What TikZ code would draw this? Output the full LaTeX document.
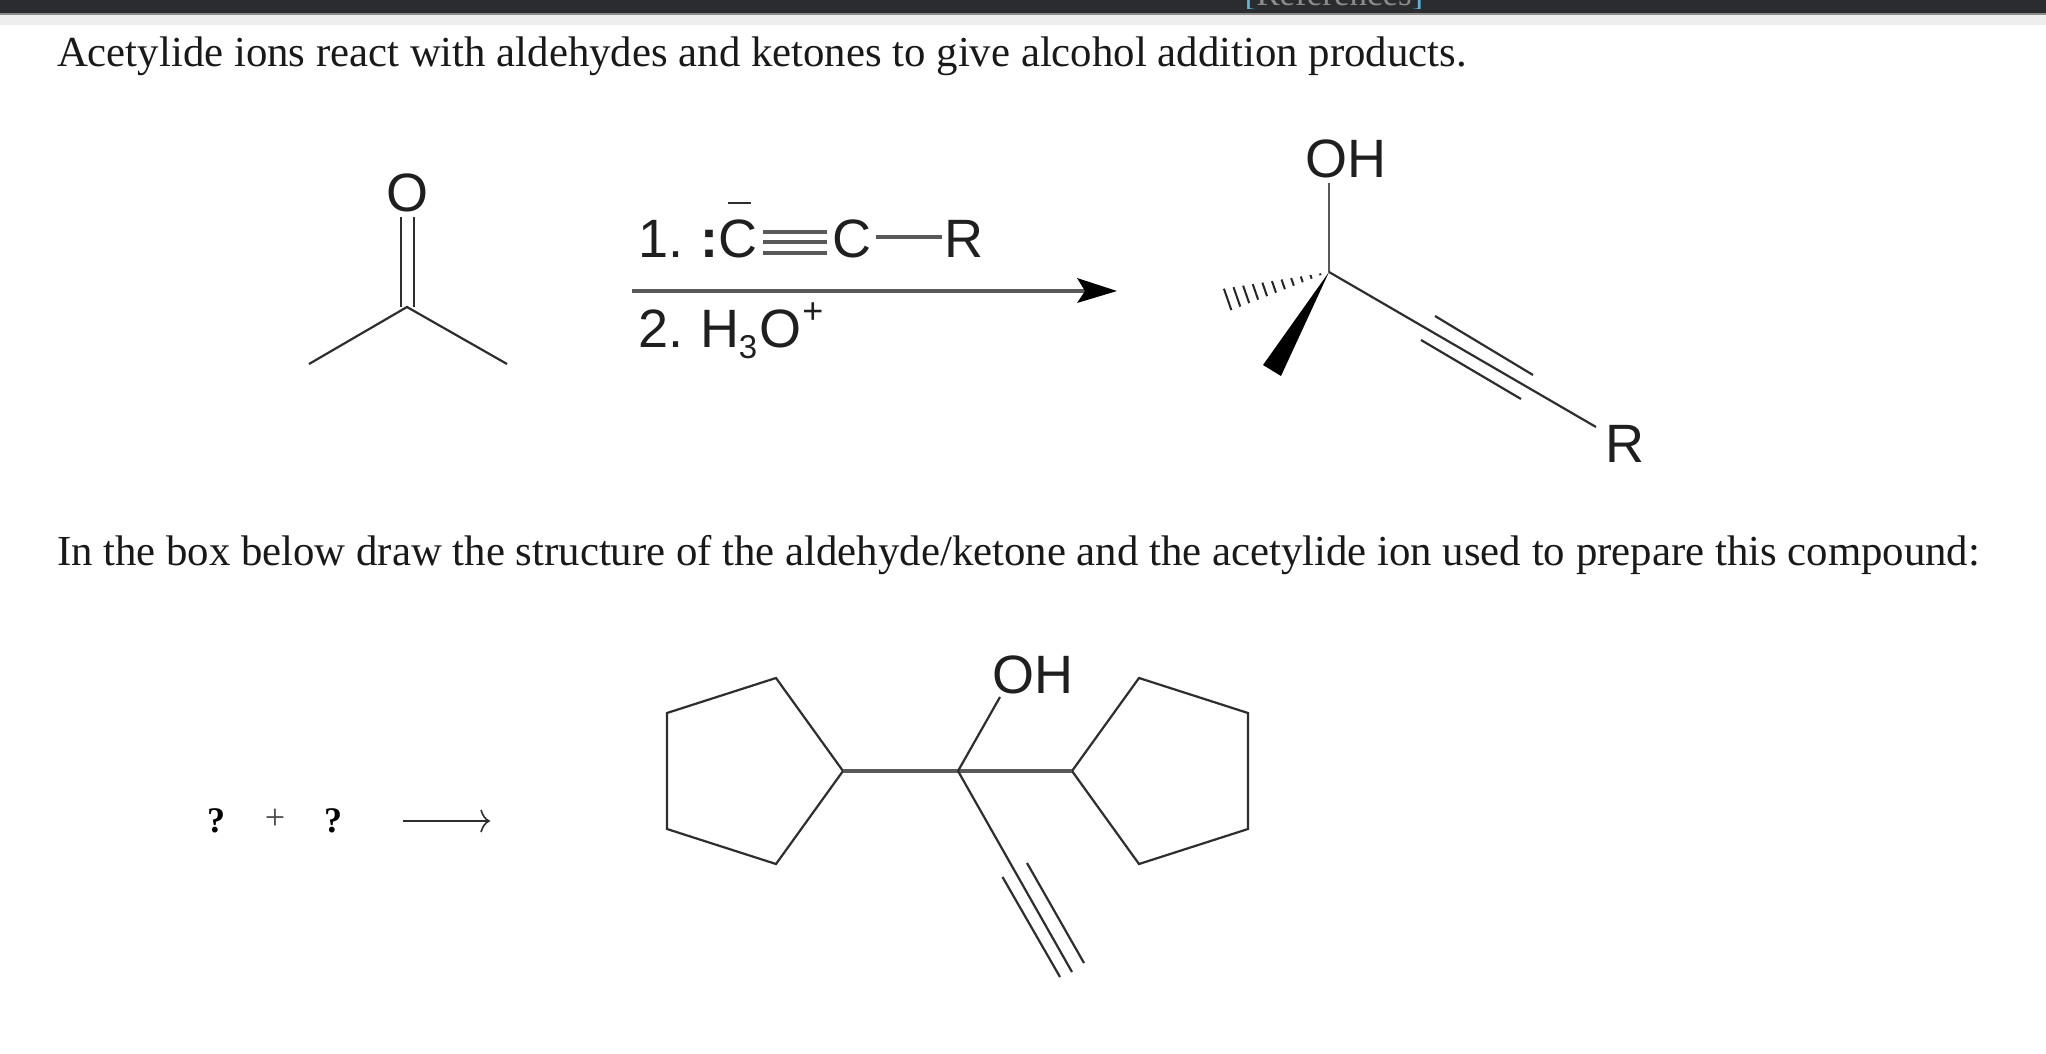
\documentclass[tikz,border=0pt]{standalone}
\usepackage{fontspec}
\usetikzlibrary{calc}
\setmainfont{Liberation Serif}
\newfontfamily\chemfont{Liberation Sans}
\definecolor{bond}{HTML}{2E2E2E}
\definecolor{barcol}{HTML}{2B2C2F}
\definecolor{bandcol}{HTML}{EEEEEE}
\definecolor{refcol}{HTML}{5BB8DC}
\tikzset{
  x=0.5pt,y=-0.5pt,
  atom/.style={inner sep=0pt,outer sep=0pt,anchor=base,font=\chemfont\fontsize{27}{27}\selectfont,text=black!88},
  para/.style={inner sep=0pt,outer sep=0pt,anchor=base west,font=\fontsize{21.4}{23}\selectfont,text=black!90},
  bondline/.style={draw=bond,line width=1.1pt},
  thickbond/.style={draw=black!65,line width=1.8pt},
  qmark/.style={inner sep=0pt,outer sep=0pt,anchor=base,font=\bfseries\fontsize{18}{20}\selectfont},
}
\begin{document}
\begin{tikzpicture}
\useasboundingbox (0,0) rectangle (2046,1054);
\fill[white] (0,0) rectangle (2046,1054);
% window chrome
\fill[bandcol] (0,15) rectangle (2046,25);
\fill[barcol] (0,0) rectangle (2046,13);
\fill[black!45] (0,13) rectangle (2046,15);
\begin{scope}
\clip (0,0) rectangle (2046,9);
\node[inner sep=0pt,anchor=base,text=black!45,font=\fontsize{17.5}{20}\selectfont] (refs) at (1334,6) {\textcolor{refcol}{[}References\textcolor{refcol}{]}};
\end{scope}
% paragraphs
\node[para] (line1) at (57,67) {Acetylide ions react with aldehydes and ketones to give alcohol addition products.};
\node[para] (line2) at (57,565) {In the box below draw the structure of the aldehyde/ketone and the acetylide ion used to prepare this compound:};
% acetone
\coordinate (ac) at (407,307);
\coordinate (acl) at (309,364);
\coordinate (acr) at (507,364);
\node[atom] (aco) at (407,212) {O};
\draw[bondline] (acl) -- (ac) -- (acr);
\draw[bondline] (401,217) -- (401,307);
\draw[bondline] (414,217) -- (414,307);
% reaction arrow
\coordinate (rxa) at (632,291);
\coordinate (rxb) at (1117,291);
\draw[draw=black!65,line width=2pt] (rxa) -- (1085,291);
\fill[black] (1077,278) -- (rxb) -- (1077,303) -- (1085,291) -- cycle;
% reagent 1
\node[atom,anchor=base west] (r1) at (638,257) {1.};
\node[atom] (colon) at (709,257) {\bfseries :};
\node[atom] (cm) at (738,257) {C};
\draw[bondline] (728,203) -- (751,203);
\node[atom] (c2) at (852,257) {C};
\node[atom] (rr) at (964,257) {R};
\draw[thickbond] (763,232) -- (827,232);
\draw[thickbond] (763,242) -- (827,242);
\draw[thickbond] (763,253) -- (827,253);
\coordinate (cb1) at (876,237);
\coordinate (cb2) at (942,237);
\draw[thickbond] (cb1) -- (cb2);
% reagent 2
\node[atom,anchor=base west] (r2) at (638,347) {2.};
\node[atom] (h) at (720,347) {H};
\node[atom,font=\chemfont\fontsize{16.5}{18}\selectfont] (sub3) at (748,358) {3};
\node[atom] (o3) at (780,347) {O};
\node[atom,font=\chemfont\fontsize{18}{18}\selectfont] (plus) at (813,323) {+};
% tertiary alcohol
\coordinate (pc) at (1329,272);
\node[atom] (poh) at (1346,177) {OH};
\node[atom] (pr) at (1625,462) {R};
\coordinate (prb) at (1596,427);
\coordinate (poha) at (1329,183);
\draw[draw=black!65,line width=1.3pt] (poha) -- (pc);
\draw[bondline] (pc) -- (prb);
\draw[bondline] (1435,316) -- (1533,375);
\draw[bondline] (1421,340) -- (1521,399);
\fill[black] (pc) -- (1263,365) -- (1281,376) -- cycle;
\foreach \t in {0.08,0.165,...,1.0}{
  \draw[draw=black!85,line width=1pt]
    ($(pc)!\t!(1216,290)$) -- ($(pc)!\t!(1224,313)$);
}
% bottom row
\node[qmark] (q1) at (216,832) {?};
\node[qmark,font=\fontsize{18}{20}\selectfont,text=black!70] (qp) at (275,829) {+};
\node[qmark] (q2) at (333,832) {?};
\coordinate (lra) at (403,821);
\coordinate (lrb) at (489,821);
\draw[bondline,line width=1.2pt] (lra) -- (lrb);
\draw[bondline,line width=0.8pt] (481,810) .. controls (483,816) and (485,819) .. (lrb) .. controls (485,823) and (483,826) .. (481,832);
% bis-cyclopentyl alkynol
\coordinate (mc) at (958,771);
\coordinate (la) at (843,771);
\coordinate (ra) at (1072,771);
\coordinate (l1) at (776,678);
\coordinate (l2) at (667,713);
\coordinate (l3) at (667,829);
\coordinate (l4) at (776,864);
\coordinate (r1c) at (1139,678);
\coordinate (r2c) at (1248,713);
\coordinate (r3c) at (1248,829);
\coordinate (r4c) at (1139,864);
\draw[bondline,line join=miter] (la) -- (l1) -- (l2) -- (l3) -- (l4) -- cycle;
\draw[bondline,line join=miter] (ra) -- (r1c) -- (r2c) -- (r3c) -- (r4c) -- cycle;
\draw[thickbond] (la) -- (mc) -- (ra);
\node[atom] (moh) at (1033,693) {OH};
\coordinate (moha) at (1000,697);
\draw[bondline] (mc) -- (moha);
\coordinate (mend) at (1072,972);
\draw[bondline] (mc) -- (mend);
\draw[bondline] (1027,863) -- (1084,963);
\draw[bondline] (1002.5,877) -- (1060,977);
\end{tikzpicture}
\end{document}
